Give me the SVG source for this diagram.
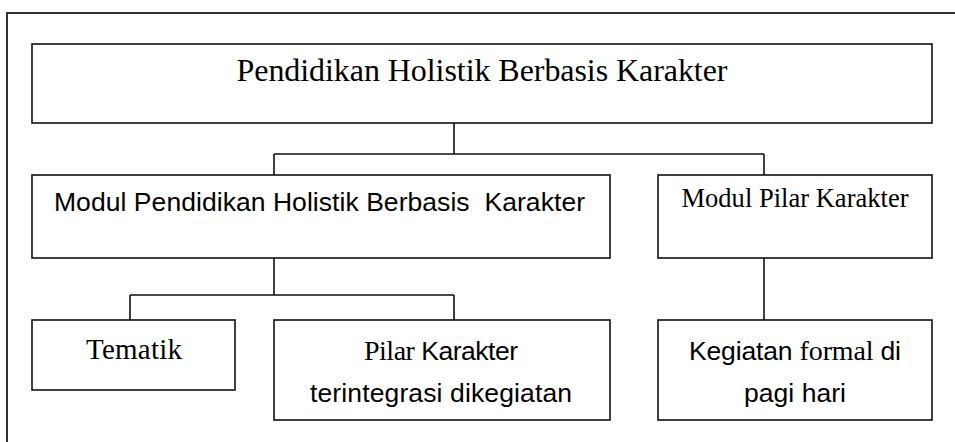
<svg xmlns="http://www.w3.org/2000/svg" width="955" height="442" viewBox="0 0 955 442">
<style>
.box{fill:#fff;stroke:#111;stroke-width:1.6}
.con{fill:none;stroke:#111;stroke-width:1.6}
.frame{fill:none;stroke:#333;stroke-width:2}
.serif{font-family:"Liberation Serif","Times New Roman",serif;fill:#000}
.sans{font-family:"Liberation Sans",Arial,sans-serif;fill:#000}
.s{font-family:"Liberation Serif","Times New Roman",serif;font-size:28px}
</style>
<rect width="955" height="442" fill="#fff"/>
<path class="frame" d="M7,442 V13 H955"/>
<g id="connectors">
<path class="con" d="M454,123 V154 M274,154 H764 M274,154 V175 M764,154 V175"/>
<path class="con" d="M274,258 V295 M130,295 H454 M130,295 V320 M454,295 V320"/>
<path class="con" d="M764,258 V320"/>
</g>
<g id="n-top">
<rect class="box" x="32" y="44" width="900" height="79"/>
<text class="serif" x="482" y="81" font-size="32" text-anchor="middle" textLength="491">Pendidikan Holistik Berbasis Karakter</text>
</g>
<g id="n-modul">
<rect class="box" x="32" y="175" width="578" height="83"/>
<text class="sans" x="54" y="211" font-size="26.5" textLength="531" xml:space="preserve">Modul Pendidikan Holistik Berbasis  Karakter</text>
</g>
<g id="n-pilar">
<rect class="box" x="658" y="175" width="274" height="83"/>
<text class="serif" x="795" y="207" font-size="26.5" text-anchor="middle" textLength="227">Modul Pilar Karakter</text>
</g>
<g id="n-tematik">
<rect class="box" x="32" y="320" width="203" height="70"/>
<text class="serif" x="134" y="359" font-size="29" text-anchor="middle" textLength="96">Tematik</text>
</g>
<g id="n-integrasi">
<rect class="box" x="274" y="320" width="336" height="100"/>
<text class="sans" x="441" y="360" font-size="26.5" text-anchor="middle" textLength="154"><tspan class="s">Pilar</tspan> Karakter</text>
<text class="sans" x="441" y="402" font-size="26.5" text-anchor="middle" textLength="262">terintegrasi dikegiatan</text>
</g>
<g id="n-kegiatan">
<rect class="box" x="658" y="320" width="274" height="100"/>
<text class="sans" x="795" y="360" font-size="26.5" text-anchor="middle" textLength="212">Kegiatan <tspan class="s">formal</tspan> di</text>
<text class="sans" x="795" y="402" font-size="26.5" text-anchor="middle" textLength="102">pagi hari</text>
</g>
</svg>
